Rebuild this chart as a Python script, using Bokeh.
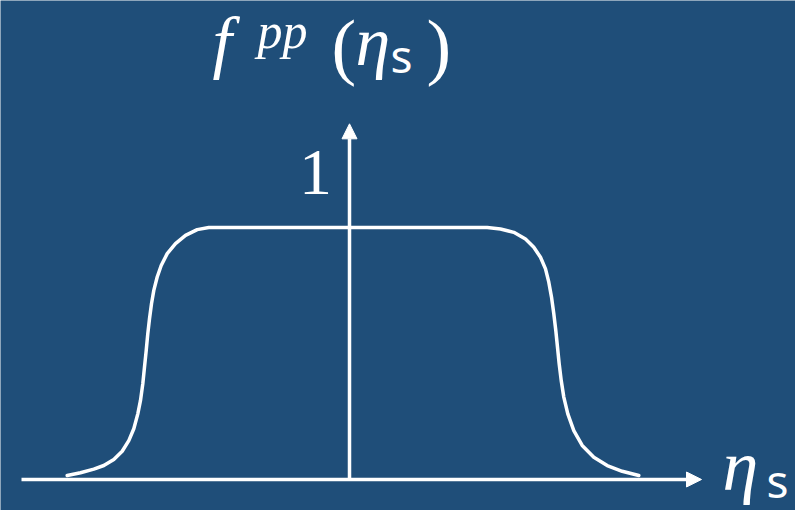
from bokeh.plotting import figure
from bokeh.models import Range1d, Arrow, NormalHead, ColumnDataSource
from bokeh.core.properties import value
from bokeh.embed import file_html
from bokeh.resources import INLINE

# Profile f^pp(eta_s): flat plateau with steep, smooth edges
eta_left = [-2.823, -2.69, -2.557, -2.457, -2.357, -2.273, -2.207, -2.157,
            -2.117, -2.09, -2.067, -2.05, -2.033, -2.017, -2.0, -1.98,
            -1.957, -1.923, -1.883, -1.823, -1.74, -1.64, -1.523, -1.407,
            -1.307]
f_left = [0.013, 0.022, 0.034, 0.046, 0.066, 0.093, 0.128, 0.167,
          0.216, 0.260, 0.315, 0.370, 0.424, 0.480, 0.529, 0.578,
          0.622, 0.666, 0.704, 0.743, 0.776, 0.803, 0.822, 0.829,
          0.829]
eta_right = [1.21, 1.377, 1.51, 1.643, 1.76, 1.843, 1.91, 1.96, 1.993,
             2.02, 2.043, 2.063, 2.08, 2.097, 2.117, 2.143, 2.183, 2.243,
             2.327, 2.443, 2.577, 2.727, 2.893]
f_right = [0.829, 0.829, 0.824, 0.813, 0.791, 0.764, 0.731, 0.693, 0.649,
           0.600, 0.545, 0.490, 0.435, 0.380, 0.326, 0.271, 0.216, 0.161,
           0.112, 0.073, 0.046, 0.027, 0.013]

# Axis extents (eta and f units)
eta_axis = [-3.28, 3.52]
f_axis = [0.0, 1.17]
tick_label = "1"

BG = "#1F4E79"
W, H = 795, 510

p = figure(width=W, height=H, output_backend="svg", toolbar_location=None,
           x_range=Range1d(-3.49, 4.46), y_range=Range1d(-0.102, 1.5757),
           min_border=0, background_fill_color=BG, border_fill_color=BG,
           outline_line_color=None)
p.axis.visible = False
p.grid.visible = False

BASE_SHIFT = 23  # pixels the rendered alphabetic baseline sits below its anchor


def sx(px):
    # screen x (px) -> eta units
    return (px - 349) / 100.0


def sy(py):
    # screen baseline y (px, from top) -> f units
    return (479 - (py - BASE_SHIFT)) / 304.0


# curve
src = ColumnDataSource(dict(x=eta_left + eta_right, y=f_left + f_right))
p.line("x", "y", source=src, line_color="white", line_width=3.5,
       line_join="round", line_cap="round")

# axes with arrow heads
p.add_layout(Arrow(x_start=eta_axis[0], y_start=0, x_end=eta_axis[1], y_end=0,
                   line_color="white", line_width=3.5,
                   end=NormalHead(size=15, fill_color="white", line_color="white", line_width=1)))
p.add_layout(Arrow(x_start=0, y_start=f_axis[0], x_end=0, y_end=f_axis[1],
                   line_color="white", line_width=3.5,
                   end=NormalHead(size=15, fill_color="white", line_color="white", line_width=1)))


def txt(x, y, s, size, font="Liberation Serif", style="normal", align="left"):
    p.text(x=[x], y=[y], text=[s], text_color="white",
           text_font=value(font), text_font_size=f"{size}px",
           text_font_style=style, text_align=align, text_baseline="alphabetic")


# tick label "1"
txt(sx(315), sy(195), tick_label, 66, align="center")

# title f^{pp}(eta_s)
txt(sx(212), sy(64), "f", 70, style="italic")
txt(sx(257), sy(53), "pp", 50, style="italic")
txt(sx(331), sy(68), "(", 74)
txt(sx(355), sy(64), "η", 70, style="italic")
txt(sx(390), sy(77), "s", 46, font="Noto Sans")
txt(sx(426), sy(68), ")", 74)

# x-axis label eta_s
txt(sx(722), sy(489), "η", 72, style="italic")
txt(sx(766), sy(503), "s", 46, font="Noto Sans")

open("out.html", "w").write(file_html(p, INLINE))
